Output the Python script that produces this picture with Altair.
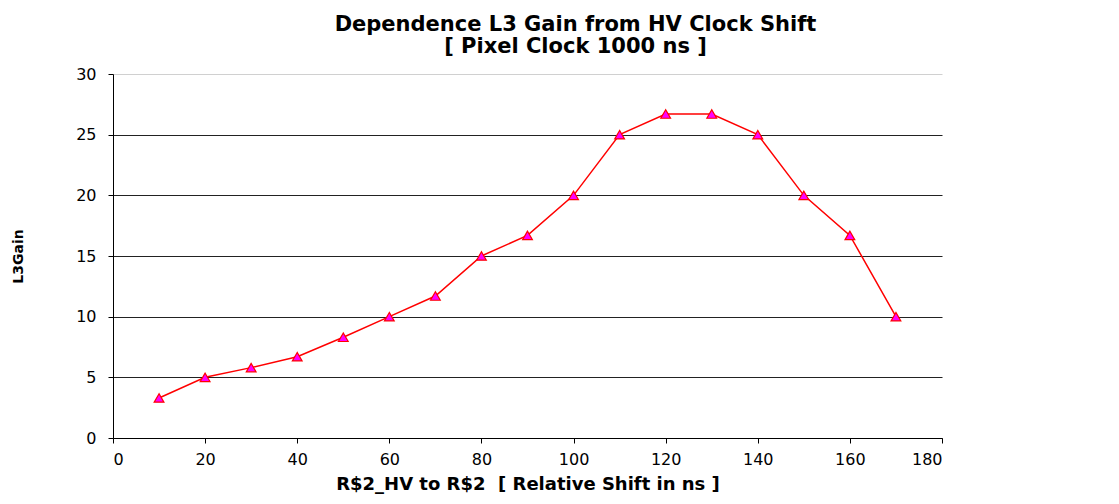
import altair as alt
import pandas as pd

shift_ns = [10, 20, 30, 40, 50, 60, 70, 80, 90, 100, 110, 120, 130, 140, 150, 160, 170]
l3_gain = [3.3, 5.0, 5.8, 6.7, 8.3, 10.0, 11.7, 15.0, 16.7, 20.0, 25.0, 26.7, 26.7, 25.0, 20.0, 16.7, 10.0]
x_ticks = [0, 20, 40, 60, 80, 100, 120, 140, 160, 180]
y_ticks = [0, 5, 10, 15, 20, 25, 30]

df = pd.DataFrame({"shift": shift_ns, "gain": l3_gain})

FONT = "DejaVu Sans"

x_enc = alt.X(
    "shift:Q",
    scale=alt.Scale(domain=[0, 180], nice=False, zero=False),
    axis=alt.Axis(
        values=x_ticks,
        title="R$2_HV to R$2 \u00a0[ Relative Shift in ns ]",
        grid=False,
        domainColor="#000000",
        tickColor="#000000",
        tickSize=5,
        labelFont=FONT,
        labelFontSize=16,
        labelColor="#000000",
        labelPadding=8,
        titleFont=FONT,
        titleFontSize=18,
        titleFontWeight="bold",
        titleColor="#000000",
        titleY=51,
        titleBaseline="alphabetic",
    ),
)

y_enc = alt.Y(
    "gain:Q",
    scale=alt.Scale(domain=[0, 30], nice=False),
    axis=alt.Axis(
        values=y_ticks,
        title="L3Gain",
        grid=True,
        gridColor=alt.condition("datum.value == 30", alt.value("#d0d0d0"), alt.value("#222222")),
        gridWidth=1,
        domainColor="#000000",
        tickColor="#000000",
        tickSize=5,
        labelFont=FONT,
        labelFontSize=16,
        labelColor="#000000",
        labelPadding=12,
        titleFont=FONT,
        titleFontSize=14,
        titleFontWeight="bold",
        titleColor="#000000",
        titleX=-95,
        titleY=182,
        titleBaseline="middle",
    ),
)

base = alt.Chart(df)

line = base.mark_line(color="#FF0000", strokeWidth=1.5).encode(x=x_enc, y=y_enc)
pts = base.mark_point(
    shape="triangle-up", filled=True, fill="#FF00FF", stroke="#FF0000",
    strokeWidth=1.2, size=95, opacity=1
).encode(x="shift:Q", y="gain:Q")

chart = (
    (line + pts)
    .properties(
        width=829,
        height=364,
        autosize=alt.AutoSizeParams(type="none"),
        padding={"left": 105, "top": 66, "right": 160, "bottom": 58},
        background="#ffffff",
        title=alt.TitleParams(
            ["Dependence L3 Gain from HV Clock Shift", "[ Pixel Clock 1000 ns ]"],
            font=FONT,
            fontSize=21,
            fontWeight="bold",
            color="#000000",
            anchor="middle",
            dx=48,
            lineHeight=22,
            offset=9,
        ),
    )
    .configure_view(stroke=None)
)

chart.save("out.html", embed_options={"renderer": "svg", "actions": False})
